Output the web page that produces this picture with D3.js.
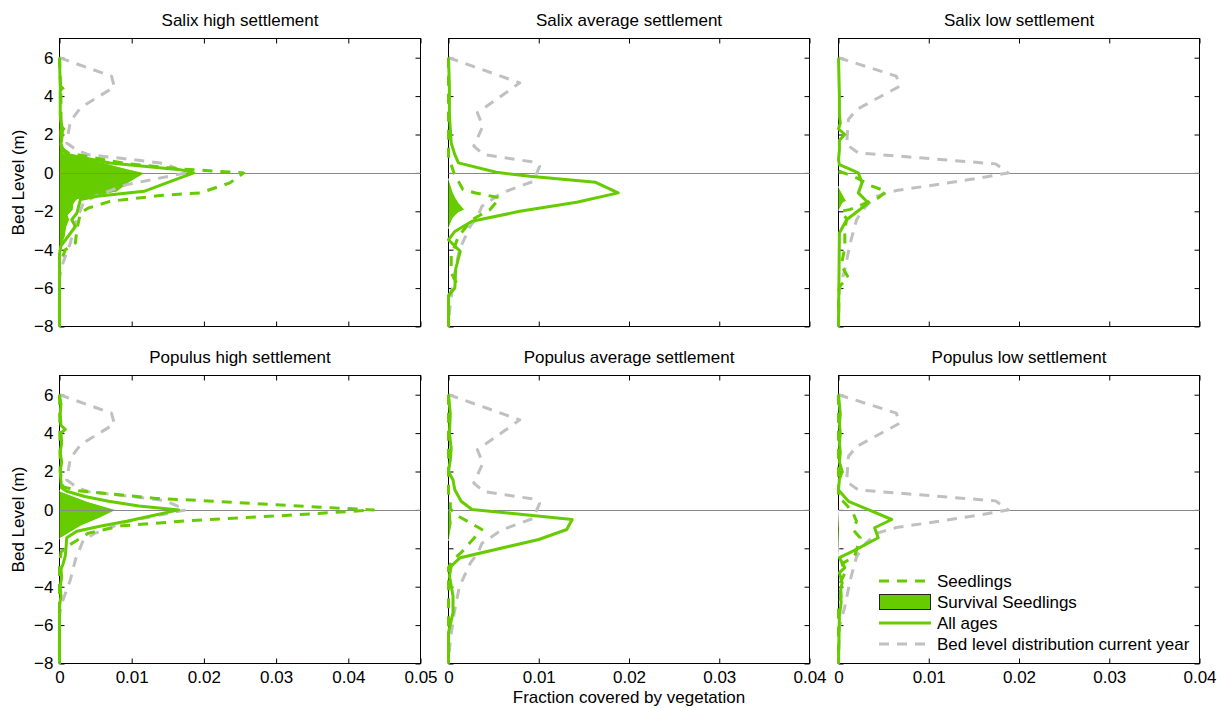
<!DOCTYPE html>
<html><head><meta charset="utf-8">
<script src="https://cdn.jsdelivr.net/npm/d3@7"></script>
<style>
body{margin:0;background:#fff}
svg{display:block}
text{font-family:"Liberation Sans",Arial,Helvetica,sans-serif;fill:#000}
</style>
</head><body>
<svg id="chart" width="1222" height="708"></svg>
<script>
// ---------- data: [bed level (m), fraction covered] ----------
const titles = ["Salix high settlement","Salix average settlement","Salix low settlement",
                "Populus high settlement","Populus average settlement","Populus low settlement"];
const xMaxes = [0.05,0.04,0.04,0.05,0.04,0.04];
const xTicksWide = [0,0.01,0.02,0.03,0.04,0.05];
const xTicksNarrow = [0,0.01,0.02,0.03,0.04];
const yTicks = [-8,-6,-4,-2,0,2,4,6];
const legendLabels = ["Seedlings","Survival Seedlings","All ages","Bed level distribution current year"];
const xLabel = "Fraction covered by vegetation";
const yLabel = "Bed Level (m)";

// bed level distribution (grey dashed), per settlement scenario
const bedHigh = [[6,0],[5.04,0.0072],[4.48,0.0076],[3.39,0.0029],[2.69,0.0015],[1.56,0.001],[1.18,0.0024],[0.95,0.004],[0.75,0.0088],[0.49,0.0146],[0,0.0175],[-0.61,0.0093],[-1.22,0.0049],[-1.57,0.0033],[-2.6,0.0022],[-3.65,0.0015],[-4.87,0.0003],[-5.5,0],[-8,0]];
const bedAvg = [[6,0],[4.69,0.0079],[3.13,0.0032],[2.43,0.0038],[1.39,0.0028],[0.96,0.0039],[0.58,0.0092],[0.35,0.0101],[-0.44,0.0094],[-1.04,0.0059],[-1.74,0.0037],[-2.2,0.0033],[-2.79,0.0024],[-4.0,0.0012],[-5.45,0.0006],[-6.8,0.0002],[-8,0]];
const bedLow = [[6,0],[5.04,0.0064],[4.52,0.0068],[3.3,0.002],[2.78,0.0011],[1.48,0.0009],[1.04,0.0022],[0.47,0.0174],[0,0.0188],[-0.26,0.0157],[-0.56,0.0116],[-0.92,0.0064],[-1.22,0.0042],[-1.74,0.003],[-2.44,0.002],[-3.65,0.0013],[-5.04,0.0007],[-6.09,0.0001],[-8,0]];

// Salix high
const salixHighSeedlings = [[6,0],[4,0.0002],[2,0.0002],[1.3,0.0003],[1.04,0.0012],[0.5,0.009],[0.2,0.017],[0,0.0255],[-0.52,0.0236],[-1.04,0.0195],[-1.18,0.0139],[-1.48,0.007],[-1.83,0.004],[-2.09,0.0029],[-2.96,0.0024],[-3.65,0.0022],[-4.0,0.0008],[-4.8,0],[-8,0]];
const salixHighSurvival = [[6,0],[4.7,0.0001],[4.4,0.0008],[4.2,0.0002],[3,0.0001],[2.6,0.0002],[2.3,0.0009],[2.0,0.0004],[1.6,0.0002],[1.3,0.0006],[1.05,0.0005],[1.0,0.0008],[0.52,0.0063],[0.25,0.009],[0,0.0119],[-0.52,0.0096],[-1.0,0.0079],[-1.2,0.0052],[-1.4,0.0024],[-1.6,0.002],[-1.91,0.0019],[-2.2,0.0012],[-2.44,0.0014],[-2.8,0.001],[-3.3,0.0008],[-3.7,0.0004],[-4.17,0.0001],[-4.4,0]];
const salixHighAll = [[6,0],[4.5,0.0001],[3,0.0001],[2.5,0.0003],[2.0,0.0004],[1.5,0.0002],[1.1,0.0006],[0.95,0.0012],[0.52,0.007],[0.17,0.0167],[0,0.0186],[-0.26,0.0167],[-0.96,0.0117],[-1.22,0.0052],[-1.39,0.0029],[-2.09,0.0024],[-2.44,0.0017],[-2.8,0.0022],[-3.3,0.0012],[-3.8,0.0002],[-4.2,0],[-8,0]];

// Salix average
const salixAvgSeedlings = [[6,0],[0.6,0],[0.43,0.0003],[0,0.0006],[-0.44,0.0011],[-0.87,0.0016],[-1.05,0.003],[-1.3,0.0057],[-1.91,0.0046],[-2.44,0.0026],[-3.3,0.0011],[-4.3,0.0003],[-5.2,0.0003],[-5.74,0.0009],[-6.4,0],[-8,0]];
const salixAvgSurvival = [[-0.3,0],[-0.7,0.0003],[-1.0,0.0005],[-1.3,0.0008],[-1.6,0.0012],[-1.91,0.0018],[-2.1,0.001],[-2.35,0.0005],[-2.9,0]];
const salixAvgAll = [[6,0],[4.5,0.0001],[3,0.0001],[1.56,0.0003],[0.95,0.0007],[0.52,0.0011],[0.03,0.0053],[-0.18,0.009],[-0.49,0.0163],[-1.04,0.0188],[-1.53,0.0142],[-2.0,0.0079],[-2.52,0.0026],[-3.05,0.0007],[-3.48,0],[-4.09,0.0013],[-5,0.0008],[-6.0,0.0007],[-6.4,0],[-8,0]];

// Salix low
const salixLowSeedlings = [[0.1,0],[-0.09,0.0011],[-0.3,0.0022],[-0.65,0.0035],[-0.96,0.0053],[-1.3,0.0044],[-1.9,0.0013],[-2.0,0.0003],[-2.4,0.0009],[-3.0,0.0007],[-3.9,0.0007],[-4.8,0.0003],[-5.46,0.0011],[-5.9,0.0001],[-6.2,0],[-8,0]];
const salixLowSurvival = [[-0.7,0],[-0.8,0.0001],[-1.48,0.0009],[-1.55,0.0005],[-1.91,0.0001],[-1.95,0]];
const salixLowAll = [[6,0],[4,0.0001],[3,0.0001],[2.6,0.0002],[2.3,0],[2.0,0.0007],[1.7,0.0001],[1.2,0.0001],[0.7,0],[0.43,0.0001],[0,0.0022],[-0.52,0.0026],[-1.04,0.0022],[-1.57,0.0033],[-2.44,0.0009],[-3.13,0.0001],[-8,0]];

// Populus high
const populusHighSeedlings = [[6,0],[2,0.0001],[1.2,0.0005],[1.0,0.0026],[0.6,0.0133],[0.43,0.0225],[0.14,0.0363],[0,0.0435],[-0.28,0.0317],[-0.56,0.0179],[-0.83,0.0086],[-1.21,0.004],[-1.87,0.0012],[-2.2,0.0002],[-3,0],[-8,0]];
const populusHighSurvival = [[1.0,0],[0.95,0.0003],[0.45,0.0038],[0,0.0079],[-0.42,0.0056],[-0.85,0.0029],[-1.37,0.0006],[-1.5,0]];
const populusHighAll = [[6,0],[5.5,0.0002],[5,0.0001],[4.4,0.0002],[4.2,0.0008],[4.0,0.0002],[3.5,0.0003],[3,0.0001],[2.5,0.0003],[2,0.0001],[1.5,0.0002],[1.14,0.0003],[0.97,0.001],[0.7,0.0035],[0.45,0.0068],[0.2,0.011],[0,0.0165],[-0.3,0.0128],[-0.59,0.0093],[-0.85,0.0056],[-1.11,0.0024],[-1.45,0.001],[-2.0,0.0009],[-2.4,0.0008],[-2.8,0.0005],[-3.1,0.0002],[-3.5,0.0003],[-4,0.0001],[-4.5,0.0002],[-5,0],[-8,0]];

// Populus average
const populusAvgSeedlings = [[6,0],[0.6,0],[0.45,0.0002],[0.1,0.0002],[0,0.0003],[-0.33,0.0011],[-1.02,0.0037],[-1.8,0.0022],[-2.23,0.0014],[-2.6,0.0005],[-3,0],[-8,0]];
const populusAvgSurvival = [[0,0],[-0.1,0.0003],[-0.7,0.0004],[-1.5,0.0001],[-1.6,0]];
const populusAvgAll = [[6,0],[5,0.0002],[4,0.0001],[3.2,0.0003],[2.6,0.0002],[2.0,0],[1.56,0.0005],[1.05,0.0007],[0.45,0.0014],[0.02,0.0026],[-0.5,0.0137],[-1.02,0.0131],[-1.54,0.01],[-2.49,0.0013],[-2.93,0.0003],[-3.45,0.0001],[-4.49,0.0005],[-5.35,0.0005],[-6.39,0],[-8,0]];

// Populus low
const populusLowSeedlings = [[6,0],[0.6,0],[0.45,0.0005],[0.2,0.001],[-0.16,0.0016],[-0.59,0.002],[-1.02,0.0016],[-1.45,0.0024],[-2.41,0.0018],[-2.8,0.0004],[-3.3,0.0007],[-3.8,0.0002],[-4.5,0.0003],[-5,0],[-8,0]];
const populusLowSurvival = [[0,0],[-1,0.0001],[-2.5,0]];
const populusLowAll = [[6,0],[5.5,0.0001],[5,0.0002],[4.5,0.0001],[4,0.0002],[3.5,0.0001],[3,0.0002],[2.5,0.0001],[2.0,0.0004],[1.6,0.0001],[1.04,0],[0.45,0.0011],[-0.5,0.0059],[-0.93,0.004],[-1.45,0.0044],[-1.9,0.0026],[-2.15,0.0016],[-2.49,0.0001],[-3.01,0.0007],[-3.27,0.0001],[-3.8,0.0004],[-4.3,0.0002],[-4.8,0.0003],[-5.5,0.0001],[-8,0]];

const panels = [
  {title:titles[0], xMax:xMaxes[0], ticks:xTicksWide,   seedlings:salixHighSeedlings,   survival:salixHighSurvival,   all:salixHighAll,   bed:bedHigh},
  {title:titles[1], xMax:xMaxes[1], ticks:xTicksNarrow, seedlings:salixAvgSeedlings,    survival:salixAvgSurvival,    all:salixAvgAll,    bed:bedAvg},
  {title:titles[2], xMax:xMaxes[2], ticks:xTicksNarrow, seedlings:salixLowSeedlings,    survival:salixLowSurvival,    all:salixLowAll,    bed:bedLow},
  {title:titles[3], xMax:xMaxes[3], ticks:xTicksWide,   seedlings:populusHighSeedlings, survival:populusHighSurvival, all:populusHighAll, bed:bedHigh},
  {title:titles[4], xMax:xMaxes[4], ticks:xTicksNarrow, seedlings:populusAvgSeedlings,  survival:populusAvgSurvival,  all:populusAvgAll,  bed:bedAvg},
  {title:titles[5], xMax:xMaxes[5], ticks:xTicksNarrow, seedlings:populusLowSeedlings,  survival:populusLowSurvival,  all:populusLowAll,  bed:bedLow}
];

// ---------- layout & style ----------
const GREEN = "#66cc00", GREY = "#c0c0c0", ZERO = "#888888";
const FONT = 17;
const colX = [[59.5,420.5],[448.5,809.5],[838.5,1199.5]];
const rowY = [[326.5,38.5],[663.5,375.5]];
const titleY = [26, 363];
const DASH = "10,8";

const svg = d3.select("#chart");
const fmtX = d => d === 0 ? "0" : d3.format(".2f")(d);

panels.forEach((p, i) => {
  const r = Math.floor(i / 3), c = i % 3;
  const x = d3.scaleLinear().domain([0, p.xMax]).range(colX[c]);
  const y = d3.scaleLinear().domain([-8, 7]).range(rowY[r]);
  const g = svg.append("g");

  // box
  g.append("rect")
    .attr("x", x.range()[0]).attr("y", y.range()[1])
    .attr("width", x.range()[1] - x.range()[0]).attr("height", y.range()[0] - y.range()[1])
    .attr("fill", "none").attr("stroke", "#000").attr("stroke-width", 1);

  // axes (ticks inward)
  const styleAxis = sel => {
    sel.select(".domain").remove();
    sel.selectAll(".tick line").attr("stroke", "#000");
    sel.selectAll("text").style("font-size", FONT + "px").attr("fill", "#000");
  };
  g.append("g").attr("transform", `translate(0,${y.range()[0]})`)
    .call(d3.axisBottom(x).tickValues(p.ticks).tickSize(-5).tickPadding(7)
      .tickFormat(r === 1 ? fmtX : () => ""))
    .call(styleAxis);
  g.append("g").attr("transform", `translate(0,${y.range()[1]})`)
    .call(d3.axisTop(x).tickValues(p.ticks).tickSize(-5).tickFormat(() => ""))
    .call(styleAxis);
  g.append("g").attr("transform", `translate(${x.range()[0]},0)`)
    .call(d3.axisLeft(y).tickValues(yTicks).tickSize(-5).tickPadding(6)
      .tickFormat(c === 0 ? d3.format("d") : () => ""))
    .call(styleAxis);
  g.append("g").attr("transform", `translate(${x.range()[1]},0)`)
    .call(d3.axisRight(y).tickValues(yTicks).tickSize(-5).tickFormat(() => ""))
    .call(styleAxis);

  // title
  g.append("text").attr("x", (x.range()[0] + x.range()[1]) / 2).attr("y", titleY[r])
    .attr("text-anchor", "middle").style("font-size", FONT + "px").text(p.title);

  const line = d3.line().x(d => x(d[1])).y(d => y(d[0]));
  const area = d3.area().x0(x(0)).x1(d => x(d[1])).y(d => y(d[0]));

  // survival fill
  g.append("path").datum(p.survival).attr("d", area).attr("fill", GREEN).attr("stroke", "none");
  g.append("path").datum(p.survival).attr("d", line).attr("fill", "none")
    .attr("stroke", "#fff").attr("stroke-width", 1);

  // zero line
  g.append("line").attr("x1", x.range()[0]).attr("x2", x.range()[1])
    .attr("y1", Math.round(y(0)) + 0.5).attr("y2", Math.round(y(0)) + 0.5)
    .attr("stroke", ZERO).attr("stroke-width", 1);

  // bed level distribution
  g.append("path").datum(p.bed).attr("d", line).attr("fill", "none")
    .attr("stroke", GREY).attr("stroke-width", 3).attr("stroke-dasharray", DASH)
    .attr("stroke-linejoin", "round");
  // seedlings
  g.append("path").datum(p.seedlings).attr("d", line).attr("fill", "none")
    .attr("stroke", GREEN).attr("stroke-width", 3).attr("stroke-dasharray", DASH)
    .attr("stroke-linejoin", "round");
  // all ages
  g.append("path").datum(p.all).attr("d", line).attr("fill", "none")
    .attr("stroke", GREEN).attr("stroke-width", 3).attr("stroke-linejoin", "round");

  // legend in last panel
  if (i === 5) {
    const lx0 = 879, lx1 = 931, tx = 937;
    const rowsY = [581, 602, 623, 644];
    const lg = g.append("g");
    lg.append("line").attr("x1", lx0).attr("x2", lx1).attr("y1", rowsY[0]).attr("y2", rowsY[0])
      .attr("stroke", GREEN).attr("stroke-width", 3).attr("stroke-dasharray", DASH);
    lg.append("rect").attr("x", lx0 + 0.5).attr("y", rowsY[1] - 7.5).attr("width", lx1 - lx0 - 1).attr("height", 15)
      .attr("fill", GREEN).attr("stroke", "#222").attr("stroke-width", 1);
    lg.append("line").attr("x1", lx0).attr("x2", lx1).attr("y1", rowsY[2]).attr("y2", rowsY[2])
      .attr("stroke", GREEN).attr("stroke-width", 3);
    lg.append("line").attr("x1", lx0).attr("x2", lx1).attr("y1", rowsY[3]).attr("y2", rowsY[3])
      .attr("stroke", GREY).attr("stroke-width", 3).attr("stroke-dasharray", DASH);
    legendLabels.forEach((t, k) => {
      lg.append("text").attr("x", tx).attr("y", rowsY[k] + 6).style("font-size", FONT + "px").text(t);
    });
  }
});

// shared axis labels
svg.append("text").attr("x", 629).attr("y", 703).attr("text-anchor", "middle")
  .style("font-size", FONT + "px").text(xLabel);
[[182.5],[519.5]].forEach(([cy]) => {
  svg.append("text").attr("transform", `translate(24,${cy}) rotate(-90)`)
    .attr("text-anchor", "middle").style("font-size", FONT + "px").text(yLabel);
});
</script>
</body></html>
